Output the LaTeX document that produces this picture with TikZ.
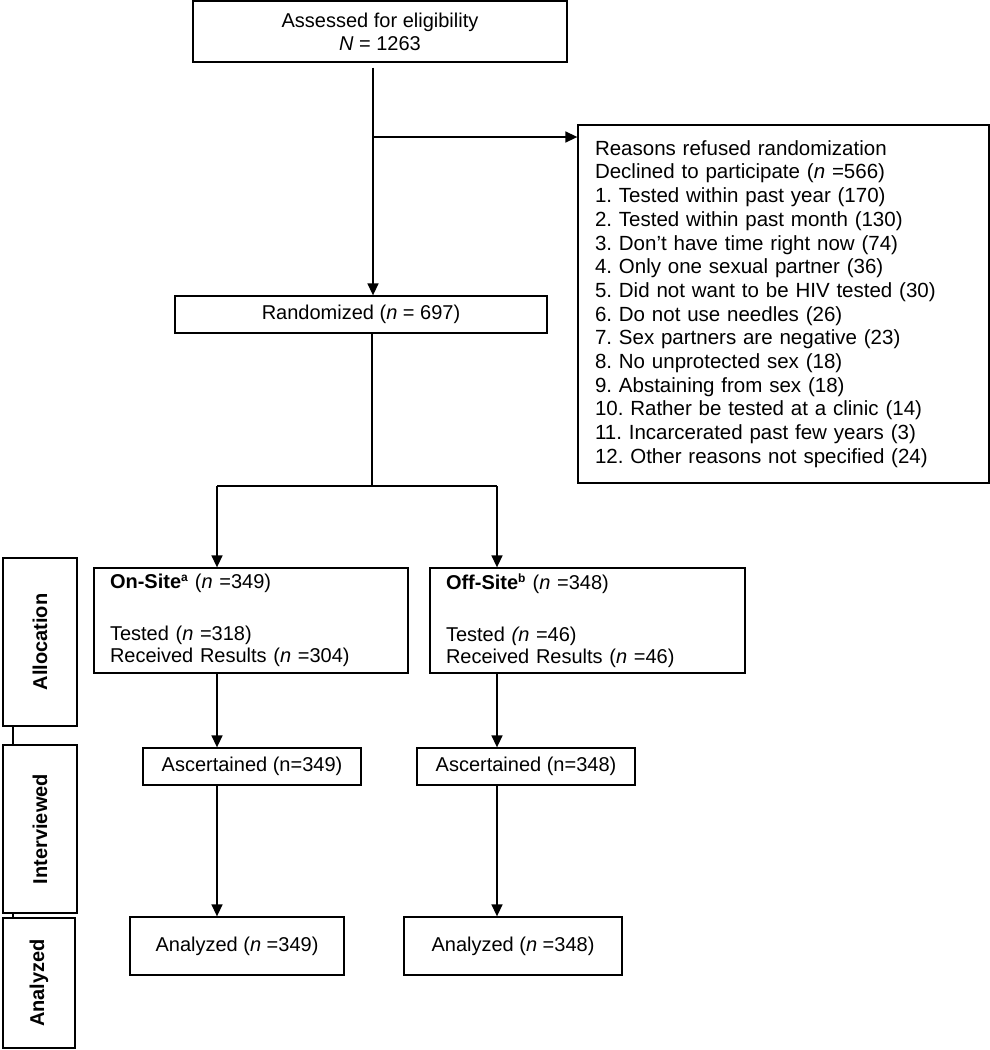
\documentclass[tikz,border=0pt]{standalone}
\usepackage{fontspec}
\setmainfont{Liberation Sans}
\usetikzlibrary{arrows.meta, positioning}
\frenchspacing
\newcommand{\armnote}[1]{\textsuperscript{\fontsize{12}{12}\selectfont #1}}
\tikzset{
  flowbox/.style={draw, line width=1.3pt, align=center, inner sep=0pt, font=\fontsize{20}{23}\selectfont},
  armbox/.style={draw, line width=1.3pt, align=left, inner xsep=16pt, inner ysep=0pt, font=\fontsize{20}{22}\selectfont},
  sidebox/.style={draw, line width=1.3pt, rotate=90, inner sep=0pt, minimum height=74pt, font=\fontsize{20}{23}\selectfont\bfseries},
  flowarr/.style={-{Triangle[length=12pt, width=11pt]}, line width=1.5pt},
  flowline/.style={line width=1.5pt},
}

\begin{document}
\begin{tikzpicture}[x=1pt, y=-1pt]
  \useasboundingbox (0,0) rectangle (990,1050);

  % enrolment
  \node[flowbox, minimum width=374pt, minimum height=61pt] (assess) at (380,31.5)
    {Assessed for eligibility\\\textit{N} = 1263};
  \node[flowbox, align=left, inner xsep=17pt, text width=377pt, minimum height=358pt,
    font=\fontsize{20.5}{23.7}\selectfont] (reasons) at (783.5,304)
    {Reasons refused randomization\\
     Declined to participate (\textit{n} =566)\\
     1. Tested within past year (170)\\
     2. Tested within past month (130)\\
     3. Don’t have time right now (74)\\
     4. Only one sexual partner (36)\\
     5. Did not want to be HIV tested (30)\\
     6. Do not use needles (26)\\
     7. Sex partners are negative (23)\\
     8. No unprotected sex (18)\\
     9. Abstaining from sex (18)\\
     10. Rather be tested at a clinic (14)\\
     11. Incarcerated past few years (3)\\
     12. Other reasons not specified (24)};
  \node[flowbox, minimum width=372pt, minimum height=37pt] (rand) at (361,314.5)
    {Randomized (\textit{n} = 697)};

  % arms
  \node[armbox, text width=282pt, minimum height=105pt] (onsite) at (251,620.5)
    {\textbf{On-Site\armnote{a}} (\textit{n} =349)\\[30pt]
     Tested (\textit{n} =318)\\
     Received Results (\textit{n} =304)};
  \node[armbox, text width=283pt, minimum height=105pt] (offsite) at (587.5,620.5)
    {\textbf{Off-Site\armnote{b}} (\textit{n} =348)\\[30pt]
     Tested \textit{(n} =46)\\
     Received Results (\textit{n} =46)};
  \node[flowbox, minimum width=218pt, minimum height=37pt] (ascL) at (252,766.5) {Ascertained (n=349)};
  \node[flowbox, minimum width=218pt, minimum height=37pt] (ascR) at (526,766.5) {Ascertained (n=348)};
  \node[flowbox, minimum width=214pt, minimum height=58pt] (anaL) at (237,946) {Analyzed (\textit{n} =349)};
  \node[flowbox, minimum width=218pt, minimum height=58pt] (anaR) at (513,946) {Analyzed (\textit{n} =348)};

  % stage labels
  \node[sidebox, minimum width=168pt] (alloc) at (40,642) {Allocation};
  \node[sidebox, minimum width=168pt] (interv) at (40,829) {Interviewed};
  \node[sidebox, minimum width=130pt, minimum height=72pt] (anal) at (39,983) {Analyzed};

  \coordinate (trunk) at (373,137);
  \coordinate (split) at (372,486);
  \coordinate (splitL) at (217,486);
  \coordinate (splitR) at (497,486);
  \coordinate (sidex) at (13,0);

  \draw[flowarr, shorten <=5pt] (assess.south -| trunk) -- (rand.north -| trunk);
  \draw[flowarr] (trunk) -- (reasons.west |- trunk);
  \draw[flowline] (rand.south -| split) -- (split);
  \draw[flowline] (splitL) -- (splitR);
  \draw[flowarr] (splitL) -- (splitL |- onsite.north);
  \draw[flowarr] (splitR) -- (splitR |- offsite.north);
  \draw[flowarr] (onsite.south -| splitL) -- (ascL.north -| splitL);
  \draw[flowarr] (offsite.south -| splitR) -- (ascR.north -| splitR);
  \draw[flowarr] (ascL.south -| splitL) -- (anaL.north -| splitL);
  \draw[flowarr] (ascR.south -| splitR) -- (anaR.north -| splitR);
  \draw[flowline, line width=1.2pt] (alloc.west -| sidex) -- (interv.east -| sidex);
  \draw[flowline, line width=1.2pt] (interv.west -| sidex) -- (anal.east -| sidex);
\end{tikzpicture}
\end{document}
